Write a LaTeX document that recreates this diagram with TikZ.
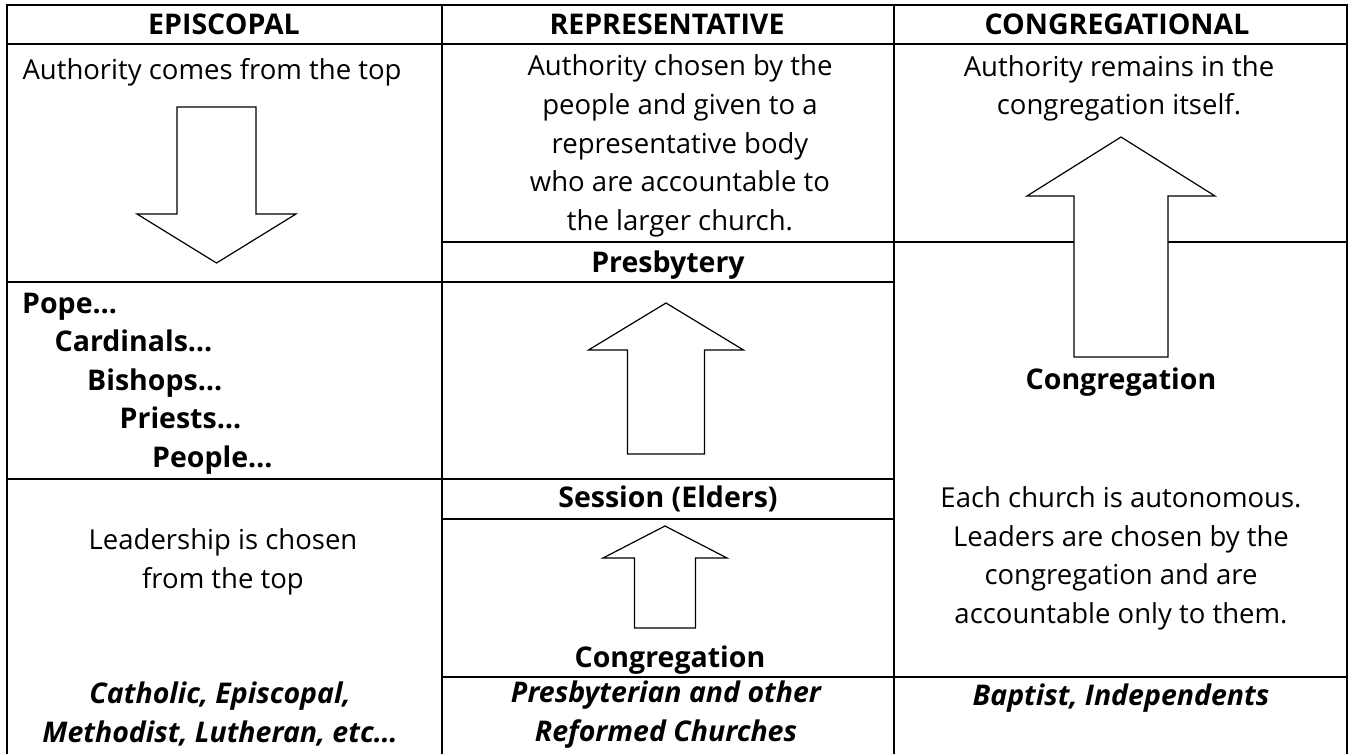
\documentclass[tikz,border=0pt]{standalone}
\usepackage{fontspec}
\setmainfont{Open Sans}
\usetikzlibrary{positioning}

\begin{document}
\begin{tikzpicture}[
  x=1pt, y=-1pt,
  grid/.style={line width=2pt, line cap=rect},
  blockarr/.style={draw=black, line width=1.2pt, fill=white, line join=miter},
  txt/.style={font=\fontsize{27.5}{38.5}\selectfont, align=center, inner sep=0pt, anchor=base},
  hd/.style={txt, font=\fontsize{28.5}{38.5}\selectfont\bfseries},
  fam/.style={txt, font=\fontsize{28.5}{38.5}\selectfont\bfseries\itshape},
  rank/.style={hd, anchor=base west}]
\useasboundingbox (0,0) rectangle (1349,754);
% table frame
\draw[grid] (7,5) -- (1347,5);
\foreach \x in {7,442,894,1347} \draw[grid] (\x,5) -- (\x,760);
\foreach \y/\a/\b in {44/7/1347, 242/442/1347, 282/7/894, 479/7/894, 519/442/894, 677/442/1347}
  \draw[grid] (\a,\y) -- (\b,\y);
% block arrows
\foreach \cx/\tip/\base/\hw/\sw/\tail in {216.5/263/214/79.5/39.5/107, 666/303/350/77.5/38.5/454, 665/526/558/62/30.5/628, 1121/137/196/94/47/357}
  \draw[blockarr] (\cx,\tip) -- (\cx+\hw,\base) -- (\cx+\sw,\base) -- (\cx+\sw,\tail)
    -- (\cx-\sw,\tail) -- (\cx-\sw,\base) -- (\cx-\hw,\base) -- cycle;
% headers
\node[hd] (hepi) at (224,35) {EPISCOPAL};
\node[hd] (hrep) at (667,35) {REPRESENTATIVE};
\node[hd] (hcon) at (1117,35) {CONGREGATIONAL};
% episcopal (multi-line nodes sit on their last baseline)
\node[txt] (epitop) at (212,80) {Authority comes from the top};
\foreach \w [count=\i from 0] in {Pope,Cardinals,Bishops,Priests,People}
  \node[rank] (r\i) at (22+32.5*\i,313+38.6*\i) {\w…};
\node[txt] (epilead) at (223,588) {Leadership is chosen\\from the top};
\node[fam] (epifam) at (220,742) {Catholic, Episcopal,\\Methodist, Lutheran, etc…};
% representative
\node[txt] (reptop) at (680,230) {Authority chosen by the\\people and given to a\\representative body\\who are accountable to\\the larger church.};
\node[hd] (presb) at (668,272) {Presbytery};
\node[hd] (sess) at (668,507) {Session (Elders)};
\node[hd] (repcong) at (670,667) {Congregation};
\node[fam] (repfam) at (666,741) {Presbyterian and other\\Reformed Churches};
% congregational
\node[txt] (contop) at (1119,115) {Authority remains in the\\congregation itself.};
\node[hd] (concong) at (1121,389) {Congregation};
\node[txt] (conauto) at (1121,623) {Each church is autonomous.\\Leaders are chosen by the\\congregation and are\\accountable only to them.};
\node[fam] (confam) at (1121,705) {Baptist, Independents};
\end{tikzpicture}
\end{document}
